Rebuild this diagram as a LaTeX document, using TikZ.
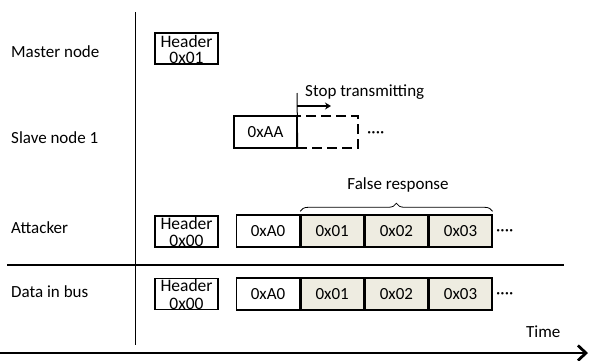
\documentclass[tikz,border=0pt]{standalone}
\usepackage{fontspec}
\setmainfont{Carlito}
\usetikzlibrary{arrows.meta,decorations.pathreplacing}
\definecolor{respfill}{HTML}{EEECE1}
\begin{document}
\begin{tikzpicture}[x=1pt,y=-1pt,
  every node/.style={font=\fontsize{17}{18}\selectfont, inner sep=0pt},
  cell/.style={draw, line width=1.4pt, minimum width=62.75pt, minimum height=32pt, anchor=west},
  resp/.style={cell, fill=respfill},
  hdr/.style={draw, line width=1.4pt, minimum width=63pt, minimum height=31pt},
  lbl/.style={anchor=base west},
  txt/.style={anchor=base},
  htxt/.style={anchor=base, font=\fontsize{17.5}{18}\selectfont},
]
\useasboundingbox (0,0) rectangle (589,360);

% time axis, node axis and bus separator
\coordinate (vtop) at (135,12);
\coordinate (vbot) at (135,345);
\draw[line width=0.9pt] (vtop) -- (vbot);
\coordinate (hl) at (7,265);
\coordinate (hr) at (564,265);
\draw[line width=1.3pt] (hl) -- (hr);
\coordinate (tl) at (0,353);
\coordinate (tr) at (588,353);
\draw[line width=2.8pt, -{Straight Barb[length=8pt,width=15pt]}] (tl) -- (tr);
\node[lbl] (tm) at (526,337) {Time};

% row labels
\node[lbl] (mn) at (11,57) {Master node};
\node[lbl] (sn) at (11,143) {Slave node 1};
\node[lbl] (at) at (11,233) {Attacker};
\node[lbl] (db) at (11,297) {Data in bus};

% master node
\node[hdr] (mh) at (186.5,48.5) {};
\node[htxt] (mh1) at (186.5,47) {Header};
\node[htxt] (mh2) at (186.5,63.5) {0x01};

% slave node 1
\node[cell, minimum width=63pt, anchor=center] (aa) at (265.5,132) {0xAA};
\node[draw, line width=2.4pt, dash pattern=on 10pt off 5pt, minimum width=61pt, minimum height=32pt] (stop) at (327.5,132) {};
\node[lbl] (sdots) at (367,137) {····};
\coordinate (st) at (297,93);
\draw[line width=1pt] (st) -- (aa.south east);
\coordinate (ar0) at (297,106);
\coordinate (ar1) at (331,106);
\draw[line width=1.7pt, -{Stealth[length=6pt,width=7pt]}] (ar0) -- (ar1);
\node[lbl] (stx) at (305,96) {Stop transmitting};

% attacker
\node[hdr] (ah) at (186.5,231.5) {};
\node[htxt] (ah1) at (186.5,229) {Header};
\node[htxt] (ah2) at (186.5,246.5) {0x00};
\node[cell] (a0) at (236,231) {0xA0};
\node[resp] (a1) at (a0.east) {0x01};
\node[resp] (a2) at (a1.east) {0x02};
\node[resp] (a3) at (a2.east) {0x03};
\node[lbl] (adots) at (496,235) {····};
\draw[decorate, decoration={brace, amplitude=8pt}, line width=0.8pt]
  ([yshift=3pt]a1.north west) -- ([yshift=3pt]a3.north east);
\node[txt] (fr) at (398,189) {False response};

% data in bus
\node[hdr] (bh) at (186.5,294) {};
\node[htxt] (bh1) at (186.5,291.5) {Header};
\node[htxt] (bh2) at (186.5,309) {0x00};
\node[cell] (b0) at (236,294) {0xA0};
\node[resp] (b1) at (b0.east) {0x01};
\node[resp] (b2) at (b1.east) {0x02};
\node[resp] (b3) at (b2.east) {0x03};
\node[lbl] (bdots) at (496,298) {····};
\end{tikzpicture}
\end{document}
